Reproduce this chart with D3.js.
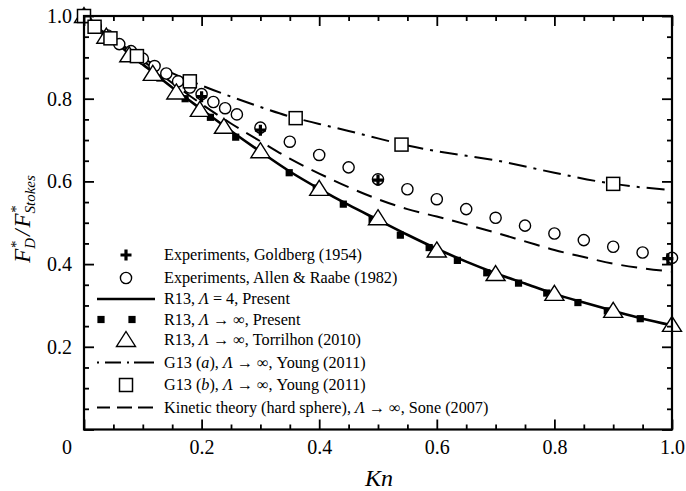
<!DOCTYPE html>
<html>
<head>
<meta charset="utf-8">
<script src="https://cdn.jsdelivr.net/npm/d3@7"></script>
<style>
  html, body { margin: 0; padding: 0; background: #fff; }
  svg { display: block; }
</style>
</head>
<body>
<svg id="chart" width="686" height="491"></svg>
<script>
// ---------------- DATA ----------------
// Experiments, Goldberg (1954)
const goldbergKn  = [0.2, 0.3, 0.5, 0.993];
const goldbergVal = [0.805, 0.724, 0.603, 0.413];

// Experiments, Allen & Raabe (1982)
const allenKn  = [0.02, 0.04, 0.06, 0.08, 0.10, 0.12, 0.14, 0.16, 0.18, 0.20, 0.22, 0.24, 0.26,
                  0.30, 0.35, 0.40, 0.45, 0.50, 0.55, 0.60, 0.65, 0.70, 0.75, 0.80, 0.85, 0.90, 0.95, 1.00];
const allenVal = [0.975, 0.953, 0.932, 0.915, 0.897, 0.879, 0.861, 0.842, 0.827, 0.811, 0.792, 0.777, 0.762,
                  0.730, 0.696, 0.664, 0.634, 0.605, 0.581, 0.557, 0.533, 0.512, 0.493, 0.474, 0.458, 0.442, 0.428, 0.415];

// R13, Lambda = 4, Present (solid line)
const r13Kn  = [0, 0.05, 0.10, 0.15, 0.20, 0.25, 0.30, 0.35, 0.40, 0.45, 0.50,
                0.55, 0.60, 0.65, 0.70, 0.75, 0.80, 0.85, 0.90, 0.95, 1.00];
const r13Val = [1.0, 0.940, 0.883, 0.827, 0.774, 0.722, 0.672, 0.624, 0.582, 0.543, 0.507,
                0.471, 0.437, 0.406, 0.378, 0.353, 0.328, 0.307, 0.287, 0.268, 0.252];

// R13, Lambda -> inf, Present (filled squares)
const r13InfKn  = [0, 0.043, 0.086, 0.129, 0.172, 0.215, 0.258, 0.302, 0.349, 0.395, 0.441, 0.49,
                   0.538, 0.587, 0.635, 0.685, 0.739, 0.787, 0.84, 0.89, 0.946, 1.0];
const r13InfVal = [1.0, 0.948, 0.899, 0.850, 0.800, 0.755, 0.707, 0.668, 0.621, 0.584, 0.545, 0.508,
                   0.470, 0.440, 0.409, 0.379, 0.354, 0.330, 0.307, 0.287, 0.268, 0.251];

// R13, Lambda -> inf, Torrilhon (2010) (triangles)
const torrKn  = [0, 0.038, 0.077, 0.117, 0.157, 0.197, 0.238, 0.30, 0.40, 0.50, 0.60, 0.70, 0.80, 0.90, 1.00];
const torrVal = [1.0, 0.950, 0.905, 0.860, 0.815, 0.773, 0.732, 0.673, 0.582, 0.511, 0.433, 0.376, 0.328, 0.287, 0.253];

// G13 (a), Young (2011) (dash-dot line)
const g13aKn  = [0, 0.05, 0.10, 0.15, 0.20, 0.25, 0.30, 0.35, 0.40, 0.45, 0.50, 0.55, 0.60, 0.70, 0.80, 0.90, 1.00];
const g13aVal = [1.0, 0.945, 0.898, 0.862, 0.832, 0.805, 0.780, 0.757, 0.739, 0.722, 0.704, 0.687, 0.673, 0.651, 0.621, 0.594, 0.579];

// G13 (b), Young (2011) (open squares)
const g13bKn  = [0, 0.018, 0.045, 0.09, 0.18, 0.36, 0.54, 0.90];
const g13bVal = [1.0, 0.974, 0.946, 0.903, 0.842, 0.753, 0.689, 0.594];

// Kinetic theory (hard sphere), Sone (2007) (dashed line)
const soneKn  = [0, 0.05, 0.10, 0.15, 0.20, 0.25, 0.30, 0.35, 0.40, 0.45, 0.50, 0.55, 0.60, 0.65, 0.70, 0.75, 0.80, 0.85, 0.90, 0.95, 1.00];
const soneVal = [1.0, 0.945, 0.892, 0.838, 0.787, 0.740, 0.697, 0.655, 0.619, 0.586, 0.557, 0.533, 0.515, 0.496, 0.476, 0.455, 0.434, 0.417, 0.401, 0.390, 0.382];

// Axis ticks
const xMajorTicks = [0, 0.2, 0.4, 0.6, 0.8, 1.0];
const xMinorTicks = [0.05, 0.1, 0.15, 0.25, 0.3, 0.35, 0.45, 0.5, 0.55, 0.65, 0.7, 0.75, 0.85, 0.9, 0.95];
const yMajorTicks = [0, 0.2, 0.4, 0.6, 0.8, 1.0];
const yMinorTicks = [0.05, 0.1, 0.15, 0.25, 0.3, 0.35, 0.45, 0.5, 0.55, 0.65, 0.7, 0.75, 0.85, 0.9, 0.95];
const xTickLabels = ["", "0.2", "0.4", "0.6", "0.8", "1.0"];
const yTickLabels = ["", "0.2", "0.4", "0.6", "0.8", "1.0"];
const originLabel = "0";

// Legend entries: [text, italic] segments
const legendKeys = ["plus", "circle", "solid", "fsquare", "triangle", "dashdot", "square", "dashed"];
const legendLabels = [
  [["Experiments, Goldberg (1954)", false]],
  [["Experiments, Allen & Raabe (1982)", false]],
  [["R13, ", false], ["Λ", true], [" = 4, Present", false]],
  [["R13, ", false], ["Λ", true], [" → ∞, Present", false]],
  [["R13, ", false], ["Λ", true], [" → ∞, Torrilhon (2010)", false]],
  [["G13 (", false], ["a", true], ["), ", false], ["Λ", true], [" → ∞, Young (2011)", false]],
  [["G13 (", false], ["b", true], ["), ", false], ["Λ", true], [" → ∞, Young (2011)", false]],
  [["Kinetic theory (hard sphere), ", false], ["Λ", true], [" → ∞, Sone (2007)", false]]
];

// ---------------- DRAW ----------------
const FONT = "'Liberation Serif', 'Times New Roman', Times, serif";
const svg = d3.select("#chart");
const x = d3.scaleLinear().domain([0, 1]).range([84, 672]);
const y = d3.scaleLinear().domain([0, 1]).range([429.5, 16]);
const zip = (a, b) => a.map((v, i) => [v, b[i]]);

const g = svg.append("g");

// lines
const line = d3.line().x(d => x(d[0])).y(d => y(d[1])).curve(d3.curveMonotoneX);
g.append("path").attr("d", line(zip(soneKn, soneVal)))
  .attr("fill", "none").attr("stroke", "#000").attr("stroke-width", 2).attr("stroke-dasharray", "16,9");
g.append("path").attr("d", line(zip(g13aKn, g13aVal)))
  .attr("fill", "none").attr("stroke", "#000").attr("stroke-width", 2).attr("stroke-dasharray", "18,7,3,7");
g.append("path").attr("d", line(zip(r13Kn, r13Val)))
  .attr("fill", "none").attr("stroke", "#000").attr("stroke-width", 2.6);

// symbol helpers
function drawSymbol(sel, type) {
  if (type === "plus") {
    sel.append("path").attr("d", "M-5.5,0H5.5M0,-5.5V5.5")
      .attr("stroke", "#000").attr("stroke-width", 3.2).attr("fill", "none");
  } else if (type === "circle") {
    sel.append("circle").attr("r", 5.6).attr("fill", "#fff").attr("stroke", "#000").attr("stroke-width", 1.4);
  } else if (type === "fsquare") {
    sel.append("rect").attr("x", -3.6).attr("y", -3.6).attr("width", 7.2).attr("height", 7.2).attr("fill", "#000");
  } else if (type === "triangle") {
    sel.append("path").attr("d", "M0,-8.5L9.5,6.5L-9.5,6.5Z")
      .attr("fill", "#fff").attr("stroke", "#000").attr("stroke-width", 1.4);
  } else if (type === "square") {
    sel.append("rect").attr("x", -6.5).attr("y", -6.5).attr("width", 13).attr("height", 13)
      .attr("fill", "#fff").attr("stroke", "#000").attr("stroke-width", 1.5);
  }
}
function plotSymbols(kn, val, type) {
  g.append("g").selectAll("g").data(zip(kn, val)).join("g")
    .attr("transform", d => `translate(${x(d[0])},${y(d[1])})`)
    .each(function () { drawSymbol(d3.select(this), type); });
}
plotSymbols(r13InfKn, r13InfVal, "fsquare");
plotSymbols(allenKn, allenVal, "circle");
plotSymbols(torrKn, torrVal, "triangle");
plotSymbols(g13bKn, g13bVal, "square");
plotSymbols(goldbergKn, goldbergVal, "plus");

// axes
function styleAxis(a) {
  a.select(".domain").remove();
  a.selectAll("line").attr("stroke", "#000").attr("stroke-width", 1.8);
  a.selectAll("text").attr("font-family", FONT).attr("font-size", 20).attr("fill", "#000");
}
const ax = svg.append("g");
ax.append("g").attr("transform", `translate(0,${y(0)})`)
  .call(d3.axisBottom(x).tickValues(xMajorTicks).tickSize(-10).tickPadding(10)
    .tickFormat((d, i) => xTickLabels[i])).call(styleAxis);
ax.append("g").attr("transform", `translate(0,${y(0)})`)
  .call(d3.axisBottom(x).tickValues(xMinorTicks).tickSize(-5).tickFormat("")).call(styleAxis);
ax.append("g").attr("transform", `translate(0,${y(1)})`)
  .call(d3.axisTop(x).tickValues(xMajorTicks).tickSize(-10).tickFormat("")).call(styleAxis);
ax.append("g").attr("transform", `translate(0,${y(1)})`)
  .call(d3.axisTop(x).tickValues(xMinorTicks).tickSize(-5).tickFormat("")).call(styleAxis);
ax.append("g").attr("transform", `translate(${x(0)},0)`)
  .call(d3.axisLeft(y).tickValues(yMajorTicks).tickSize(-10).tickPadding(12)
    .tickFormat((d, i) => yTickLabels[i])).call(styleAxis);
ax.append("g").attr("transform", `translate(${x(0)},0)`)
  .call(d3.axisLeft(y).tickValues(yMinorTicks).tickSize(-5).tickFormat("")).call(styleAxis);
ax.append("g").attr("transform", `translate(${x(1)},0)`)
  .call(d3.axisRight(y).tickValues(yMajorTicks).tickSize(-10).tickFormat("")).call(styleAxis);
ax.append("g").attr("transform", `translate(${x(1)},0)`)
  .call(d3.axisRight(y).tickValues(yMinorTicks).tickSize(-5).tickFormat("")).call(styleAxis);

// frame
svg.append("rect").attr("x", x(0)).attr("y", y(1)).attr("width", x(1) - x(0)).attr("height", y(0) - y(1))
  .attr("fill", "none").attr("stroke", "#000").attr("stroke-width", 2.2);

// origin label
svg.append("text").attr("x", x(0) - 17).attr("y", y(0) + 24).attr("text-anchor", "middle")
  .attr("font-family", FONT).attr("font-size", 20).text(originLabel);

// axis titles
svg.append("text").attr("x", 379).attr("y", 486).attr("text-anchor", "middle")
  .attr("font-family", FONT).attr("font-size", 24).attr("font-style", "italic").text("Kn");

const yt = svg.append("text").attr("transform", "translate(30,219) rotate(-90)")
  .attr("text-anchor", "middle").attr("font-family", FONT).attr("font-size", 23).attr("font-style", "italic");
yt.append("tspan").text("F");
yt.append("tspan").attr("font-size", 15).attr("dy", -9).text("*");
yt.append("tspan").attr("font-size", 15).attr("dx", -7.5).attr("dy", 14).text("D");
yt.append("tspan").attr("dy", -5).attr("dx", 2).text("/");
yt.append("tspan").attr("dx", 2).text("F");
yt.append("tspan").attr("font-size", 15).attr("dy", -9).text("*");
yt.append("tspan").attr("font-size", 15).attr("dx", -7.5).attr("dy", 14).text("Stokes");

// legend
const legendRowsY = [255, 278, 299, 319.5, 340, 362.5, 385, 407.5];
const lg = svg.append("g");
legendKeys.forEach((k, i) => {
  const ry = legendRowsY[i];
  const row = lg.append("g");
  if (k === "solid" || k === "dashed" || k === "dashdot") {
    const p = row.append("line").attr("x1", 97).attr("x2", 155).attr("y1", ry).attr("y2", ry)
      .attr("stroke", "#000");
    if (k === "solid") p.attr("stroke-width", 2.6);
    if (k === "dashed") p.attr("stroke-width", 2).attr("stroke-dasharray", "13,7,15,6,15,10");
    if (k === "dashdot") p.attr("stroke-width", 2).attr("stroke-dasharray", "2,6,16,6,2,5,20,10");
  } else if (k === "fsquare") {
    drawSymbol(row.append("g").attr("transform", `translate(101,${ry})`), k);
    drawSymbol(row.append("g").attr("transform", `translate(132,${ry})`), k);
  } else {
    drawSymbol(row.append("g").attr("transform", `translate(126,${ry})`), k);
  }
  const t = row.append("text").attr("x", 164).attr("y", ry + 5)
    .attr("font-family", FONT).attr("font-size", 16.2).attr("fill", "#000");
  legendLabels[i].forEach(s => {
    t.append("tspan").attr("font-style", s[1] ? "italic" : "normal").text(s[0]);
  });
});
</script>
</body>
</html>
